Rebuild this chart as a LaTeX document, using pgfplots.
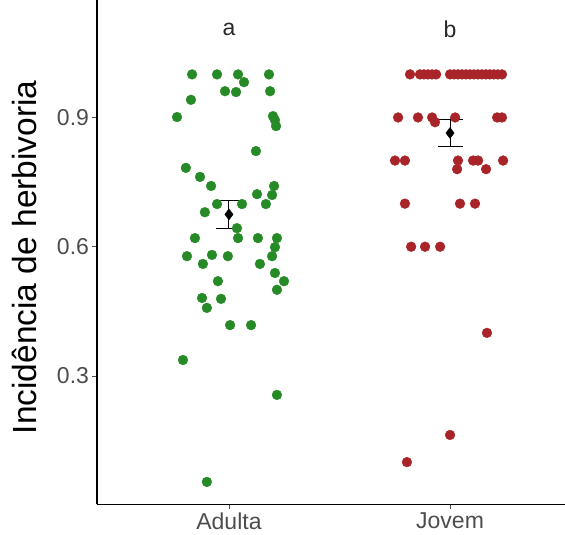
\documentclass[border=0pt]{standalone}
\usepackage{fontspec}
\setmainfont{Liberation Sans}
\usepackage{pgfplots}
\pgfplotsset{compat=1.18}
\definecolor{gA}{RGB}{38,138,38}
\definecolor{rJ}{RGB}{168,36,40}
\definecolor{tickgrey}{RGB}{77,77,77}
\begin{document}
\begin{tikzpicture}
\begin{axis}[
  scale only axis, width=468pt, height=504.5pt,
  xmin=0.403, xmax=2.52, ymin=0.0016, ymax=1.1727,
  axis x line=bottom, axis y line=left,
  axis line style={-, line width=1.3pt, black},
  xtick={1,2}, xticklabels={Adulta,Jovem},
  ytick={0.3,0.6,0.9}, yticklabels={0.3,0.6,0.9},
  tick align=outside, major tick length=4.5pt,
  tick style={tickgrey, line width=0.8pt},
  tick label style={font=\fontsize{23}{23}\selectfont, text=tickgrey},
  ylabel={Incidência de herbivoria},
  ylabel style={font=\fontsize{33.5}{33.5}\selectfont, at={(axis description cs:-0.155,0.49)}, anchor=center},
  clip=false,
]
\coordinate (ll) at (rel axis cs:0,0);
\coordinate (ur) at (rel axis cs:1,1);
\addplot[only marks, mark=*, mark size=4.9pt, mark options={fill=gA, draw=gA}] coordinates {
(0.833,1.0) (0.946,1.0) (1.041,1.0) (1.181,1.0) (1.068,0.982) (0.982,0.961) (1.032,0.959) (1.186,0.961)
(0.828,0.941) (0.765,0.901) (1.199,0.903) (1.208,0.894) (1.213,0.880) (1.122,0.822) (0.805,0.783)
(0.869,0.762) (0.919,0.741) (1.204,0.741) (1.127,0.722) (1.195,0.720) (0.946,0.699) (1.059,0.699)
(1.167,0.699) (0.891,0.680) (1.036,0.643) (1.041,0.620) (0.846,0.620) (1.131,0.620) (1.217,0.620)
(1.208,0.599) (1.195,0.578) (0.810,0.578) (0.923,0.581) (0.995,0.578) (0.882,0.560) (1.140,0.560)
(1.208,0.539) (1.249,0.520) (0.950,0.520) (1.217,0.500) (0.878,0.481) (0.964,0.479) (0.900,0.458)
(1.005,0.418) (1.100,0.418) (0.792,0.337) (1.217,0.256) (0.900,0.054)
};
\addplot[only marks, mark=*, mark size=4.9pt, mark options={fill=rJ, draw=rJ}] coordinates {
(1.819,1.0) (1.864,1.0) (1.882,1.0) (1.900,1.0) (1.918,1.0) (1.937,1.0)
(2.000,1.0) (2.018,1.0) (2.036,1.0) (2.054,1.0) (2.072,1.0) (2.090,1.0) (2.108,1.0)
(2.126,1.0) (2.144,1.0) (2.162,1.0) (2.180,1.0) (2.198,1.0) (2.216,1.0) (2.235,1.0)
(1.765,0.9) (1.855,0.9) (1.919,0.9) (2.023,0.9) (2.213,0.9) (2.235,0.9) (1.932,0.889)
(1.751,0.8) (1.796,0.8) (2.036,0.8) (2.104,0.8) (2.127,0.8) (2.240,0.8) (2.032,0.78) (2.163,0.78)
(1.796,0.7) (2.045,0.7) (2.113,0.7)
(1.824,0.6) (1.887,0.6) (1.955,0.6)
(2.167,0.4) (2.0,0.163) (1.805,0.1)
};
\addplot[only marks, mark=diamond*, mark size=5.5pt, black,
  error bars/.cd, y dir=both, y explicit, error mark=|,
  error bar style={line width=1pt, black},
  error mark options={mark size=12.5pt, line width=1pt, black}]
  coordinates {(1,0.675) +- (0,0.033) (2,0.864) +- (0,0.031)};
\node[font=\fontsize{23}{23}\selectfont, text={rgb,255:red,40;green,40;blue,40}] at (axis cs:1,1.105) {a};
\node[font=\fontsize{23}{23}\selectfont, text={rgb,255:red,40;green,40;blue,40}] at (axis cs:2,1.105) {b};
\end{axis}
\pgfresetboundingbox
\path[use as bounding box] ([shift={(-97pt,-30.5pt)}]ll) rectangle (ur);
\end{tikzpicture}
\end{document}
